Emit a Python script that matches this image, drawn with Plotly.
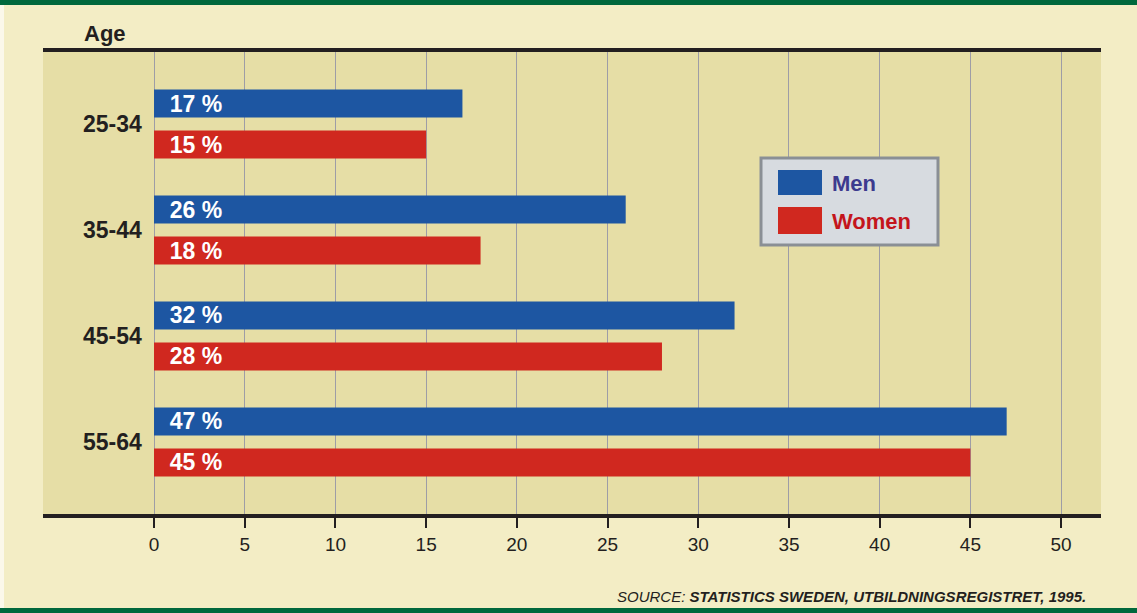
import plotly.graph_objects as go

# Share of each age group (percent), by sex
age_groups = ["25-34", "35-44", "45-54", "55-64"]
men = [17, 26, 32, 47]
women = [15, 18, 28, 45]
x_ticks = [0, 5, 10, 15, 20, 25, 30, 35, 40, 45, 50]

INK = "#231f20"
MEN_BLUE = "#1d56a2"
WOMEN_RED = "#d0281f"
FONT = "Liberation Sans, Arial, sans-serif"

W, H = 1137, 613
L, R, T, B = 43, 36, 52, 99
PW, PH = W - L - R, H - T - B


def px_x(p):
    return (p - L) / PW


def px_y(p):
    return (H - B - p) / PH


fig = go.Figure()

label_font = dict(family=FONT, size=23, color="white", weight="bold")

for name, values, colour in (("Men", men, MEN_BLUE), ("Women", women, WOMEN_RED)):
    fig.add_trace(go.Bar(
        y=age_groups, x=values, orientation="h", name=name,
        marker=dict(color=colour, line=dict(width=0)),
        texttemplate="\u00a0\u00a0%{x}\u00a0%", textposition="inside",
        insidetextanchor="start", constraintext="none", textangle=0,
        insidetextfont=label_font, hoverinfo="skip",
    ))

shapes = [
    # green rules across the top and bottom of the panel
    dict(type="rect", xref="paper", yref="paper", x0=px_x(0), x1=px_x(W),
         y0=px_y(5), y1=px_y(0), fillcolor="#00683c", line=dict(width=0), layer="above"),
    dict(type="rect", xref="paper", yref="paper", x0=px_x(0), x1=px_x(W),
         y0=px_y(H), y1=px_y(608), fillcolor="#00683c", line=dict(width=0), layer="above"),
    # narrow white margin on the left
    dict(type="rect", xref="paper", yref="paper", x0=px_x(0), x1=px_x(4),
         y0=px_y(608), y1=px_y(5), fillcolor="#fbf8ea", line=dict(width=0), layer="below"),
    # legend box and swatches
    dict(type="rect", xref="paper", yref="paper", x0=px_x(761), x1=px_x(938),
         y0=px_y(245), y1=px_y(158), fillcolor="#d7dbe0",
         line=dict(color="#8a8f95", width=3), layer="above"),
    dict(type="rect", xref="paper", yref="paper", x0=px_x(778), x1=px_x(822),
         y0=px_y(195), y1=px_y(170), fillcolor=MEN_BLUE, line=dict(width=0), layer="above"),
    dict(type="rect", xref="paper", yref="paper", x0=px_x(778), x1=px_x(822),
         y0=px_y(234), y1=px_y(207), fillcolor=WOMEN_RED, line=dict(width=0), layer="above"),
]

annotations = [
    dict(text="<b>Age</b>", xref="paper", yref="paper", x=px_x(82), y=px_y(33),
         xanchor="left", yanchor="middle", showarrow=False,
         font=dict(family=FONT, size=22, color=INK)),
    dict(text="<b>Men</b>", xref="paper", yref="paper", x=px_x(830), y=px_y(183),
         xanchor="left", yanchor="middle", showarrow=False,
         font=dict(family=FONT, size=22, color="#3c3a8e")),
    dict(text="<b>Women</b>", xref="paper", yref="paper", x=px_x(830), y=px_y(221),
         xanchor="left", yanchor="middle", showarrow=False,
         font=dict(family=FONT, size=22, color="#c4151c")),
    dict(text="<i>SOURCE: <b>STATISTICS SWEDEN, UTBILDNINGSREGISTRET, 1995.</b></i>",
         xref="paper", yref="paper", x=px_x(1088), y=px_y(596),
         xanchor="right", yanchor="middle", showarrow=False,
         font=dict(family=FONT, size=15, color=INK)),
]

fig.update_layout(
    width=W, height=H,
    margin=dict(l=L, r=R, t=T, b=B, pad=0),
    paper_bgcolor="#f3edc5",
    plot_bgcolor="#e6dea6",
    barmode="group",
    bargap=0.226,
    bargroupgap=0.317,
    showlegend=False,
    shapes=shapes,
    annotations=annotations,
    xaxis=dict(
        range=[-6.12, 52.2], tickvals=x_ticks, ticktext=[str(v) for v in x_ticks],
        showgrid=True, gridcolor="#9e9da6", gridwidth=1, zeroline=False,
        showline=True, linecolor=INK, linewidth=4, mirror=True,
        ticks="outside", ticklen=10, tickwidth=2, tickcolor=INK,
        tickfont=dict(family=FONT, size=19, color=INK),
        fixedrange=True,
    ),
    yaxis=dict(
        type="category", categoryorder="array", categoryarray=age_groups,
        range=[3.68, -0.68], showgrid=False, zeroline=False, showline=False,
        ticks="", ticklabelposition="inside", ticklabelstandoff=37,
        tickfont=dict(family=FONT, size=23, color=INK, weight="bold"),
        fixedrange=True,
    ),
)

fig.write_html("out.html")
